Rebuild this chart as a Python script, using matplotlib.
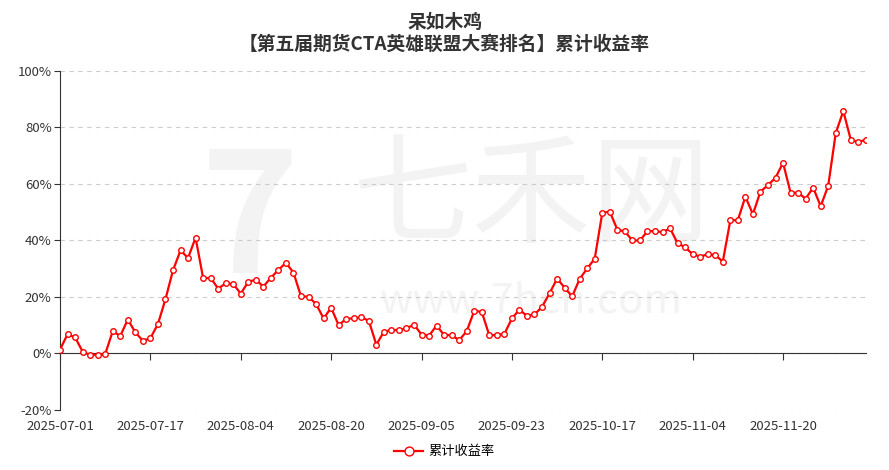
import matplotlib
matplotlib.use("Agg")
import matplotlib.pyplot as plt
import numpy as np
import pandas as pd

plt.rcParams['font.family'] = ['Noto Sans CJK SC', 'DejaVu Sans']

# trading days 2025-07-01 .. 2025-12-05 (National Day holiday removed)
days = pd.bdate_range("2025-07-01", "2025-12-05")
days = days[(days < "2025-10-01") | (days > "2025-10-08")]
dates = [d.strftime("%Y-%m-%d") for d in days]

# cumulative return, %
returns = [1.4, 6.8, 5.7, 0.7, -0.6, -0.4, -0.2, 7.9, 6.2, 12.0,
           7.5, 4.5, 5.4, 10.4, 19.2, 29.4, 36.5, 33.8, 41.0, 26.7,
           26.7, 23.0, 24.8, 24.6, 21.2, 25.4, 26.1, 23.7, 26.8, 29.6,
           32.1, 28.6, 20.2, 20.1, 17.5, 12.4, 16.2, 10.0, 12.3, 12.4,
           12.8, 11.6, 3.1, 7.7, 8.3, 8.3, 8.9, 10.2, 6.7, 6.3,
           9.9, 6.5, 6.5, 4.7, 7.9, 15.1, 14.7, 6.4, 6.6, 6.9,
           12.4, 15.5, 13.3, 13.8, 16.5, 21.3, 26.5, 23.3, 20.2, 26.4,
           30.1, 33.6, 49.8, 50.2, 43.8, 43.2, 40.0, 40.0, 43.3, 43.3,
           42.9, 44.3, 39.0, 37.6, 35.1, 34.3, 35.1, 34.9, 32.5, 47.1,
           47.2, 55.5, 49.3, 57.3, 59.6, 62.2, 67.5, 56.9, 56.9, 54.8,
           58.7, 52.1, 59.4, 78.0, 85.8, 75.6, 74.8, 75.7]

yticks = [-20, 0, 20, 40, 60, 80, 100]
title = "呆如木鸡\n【第五届期货CTA英雄联盟大赛排名】累计收益率"
series_name = "累计收益率"

x = np.arange(len(returns))

fig = plt.figure(figsize=(8.89, 4.70), dpi=100)
ax = fig.add_axes([0.0675, 0.1277, 0.9065, 0.7213])

# watermark
wm = '#f3f3f3'
ax.text(0.235, 0.55, "7", transform=ax.transAxes, fontsize=120, fontweight='bold',
        color=wm, ha='center', va='center', style='italic', zorder=0)
ax.text(0.585, 0.62, "七禾网", transform=ax.transAxes, fontsize=86,
        color=wm, ha='center', va='center', zorder=0)
ax.text(0.585, 0.32, "www.7hcn.com", transform=ax.transAxes, fontsize=30,
        color=wm, ha='center', va='center', zorder=0)

ax.plot(x, returns, color='#ff0000', linewidth=1.6, marker='o', markersize=4,
        markerfacecolor='white', markeredgecolor='#ff0000', markeredgewidth=1.0,
        label=series_name, zorder=3)

ax.set_xlim(0, len(returns) - 1)
ax.set_ylim(-20, 100)
ax.set_yticks(yticks)
ax.set_yticklabels([f"{v}%" for v in yticks])
ax.yaxis.grid(True, linestyle=(0, (4, 4)), color='#cccccc', linewidth=0.8)
ax.set_axisbelow(True)

for s in ['top', 'right']:
    ax.spines[s].set_visible(False)
ax.spines['left'].set_color('#333333')
ax.spines['bottom'].set_position(('data', 0))
ax.spines['bottom'].set_color('#333333')

tick_pos = x[::12]
ax.set_xticks(tick_pos)
ax.tick_params(axis='x', direction='out', length=5, color='#333333', labelbottom=False)
ax.tick_params(axis='y', length=4, color='#333333', labelsize=9.5, labelcolor='#333333', pad=2)

sec = ax.secondary_xaxis(0.0)
sec.set_xticks(tick_pos)
sec.set_xticklabels([dates[i] for i in tick_pos])
sec.tick_params(length=0, labelsize=9.5, labelcolor='#333333', pad=7)
sec.spines['bottom'].set_visible(False)

fig.suptitle(title, y=0.972, fontsize=13.5, fontweight='bold', color='#333333', linespacing=1.15)

fig.legend(loc='lower center', bbox_to_anchor=(0.5, 0.0), frameon=False,
           fontsize=9.5, handlelength=2.2, handletextpad=0.4, markerscale=1.6)

fig.savefig("out.png", dpi=100)
